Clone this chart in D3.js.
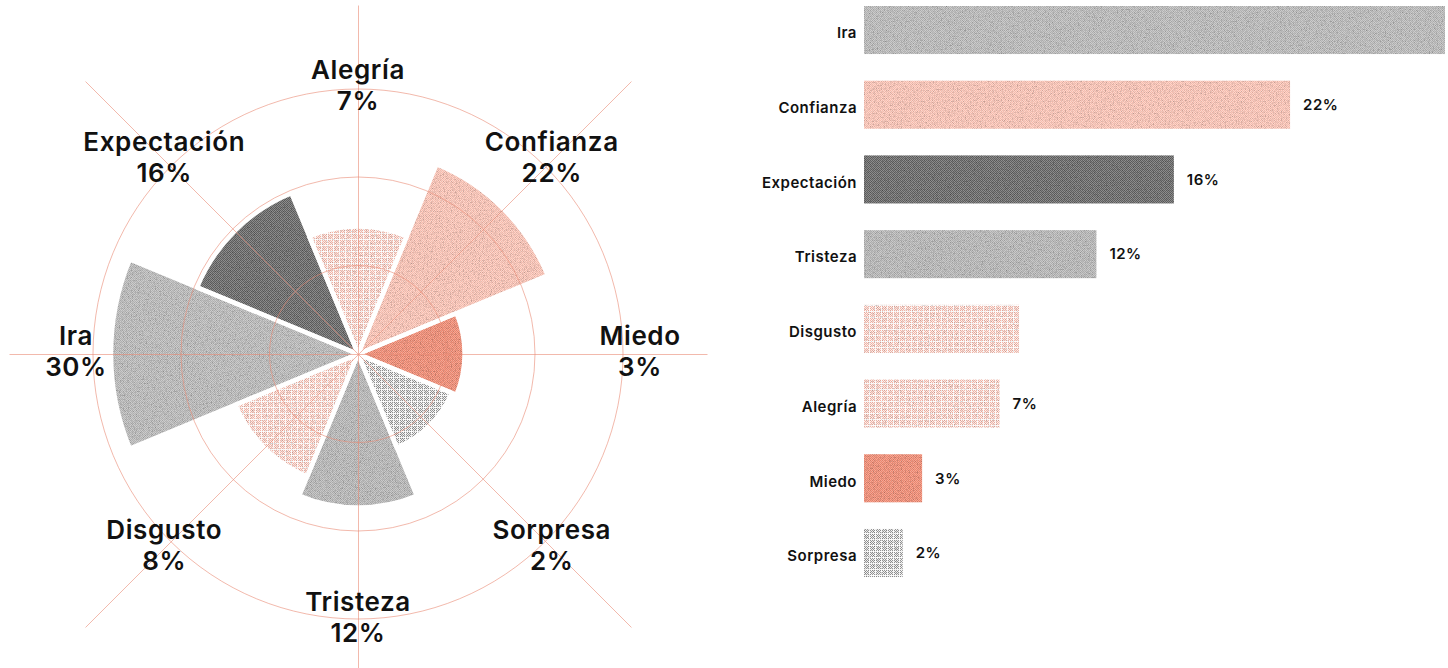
<!DOCTYPE html>
<html>
<head>
<meta charset="utf-8">
<script src="https://cdn.jsdelivr.net/npm/d3@7"></script>
<style>
  html, body { margin: 0; padding: 0; background: #fff; }
  svg { display: block; }
  text { font-family: Inter, "Noto Sans", sans-serif; fill: #111; }
</style>
</head>
<body>
<div id="chart"></div>
<script>
// emotions, clockwise from the top of the rose
const roseOrder = ['Alegría', 'Confianza', 'Miedo', 'Sorpresa', 'Tristeza', 'Disgusto', 'Ira', 'Expectación']
// same emotions, sorted for the bar chart
const barOrder = ['Ira', 'Confianza', 'Expectación', 'Tristeza', 'Disgusto', 'Alegría', 'Miedo', 'Sorpresa']
const values = { 'Alegría': 7, 'Confianza': 22, 'Miedo': 3, 'Sorpresa': 2, 'Tristeza': 12, 'Disgusto': 8, 'Ira': 30, 'Expectación': 16 }
// the original leaves these bars without a value label
const barsWithoutLabel = ['Ira', 'Disgusto']

const width = 1448
const height = 668

const svg = d3.select('#chart')
  .append('svg')
  .attr('width', width)
  .attr('height', height)

// textures: checkerboard pixels on a base tone
const textures = {
  'Ira':         { base: '#cdcdcd', dot: '#b3b3b3' },
  'Tristeza':    { base: '#cbcbcb', dot: '#b0b0b0' },
  'Confianza':   { base: '#fdd7cd', dot: '#f7bcad' },
  'Expectación': { base: '#8f8f8f', dot: '#606060' },
  'Miedo':       { base: '#f5a997', dot: '#ed866e' },
  'Alegría':     { base: '#fef1ee', dot: '#f3b5a7', grid: true },
  'Disgusto':    { base: '#fef1ee', dot: '#f3b5a7', grid: true },
  'Sorpresa':    { base: '#f6f6f6', dot: '#959595', grid: true },
}

const defs = svg.append('defs')
Object.entries(textures).forEach(([name, t], i) => {
  const s = t.grid ? 6 : 2
  const p = defs.append('pattern')
    .attr('id', 'tex' + i)
    .attr('patternUnits', 'userSpaceOnUse')
    .attr('width', s)
    .attr('height', s)
  p.append('rect').attr('width', s).attr('height', s).attr('fill', t.base)
  for (let x = 0; x < s; x++) {
    for (let y = 0; y < s; y++) {
      if ((x + y) % 2 === 0 && !(t.grid && (x === s - 1 || y === s - 1))) {
        p.append('rect').attr('x', x).attr('y', y).attr('width', 1).attr('height', 1).attr('fill', t.dot)
      }
    }
  }
  if (t.grid) {
    p.append('rect').attr('x', s - 1).attr('width', 1).attr('height', s).attr('fill', '#ffffff').attr('opacity', 0.7)
    p.append('rect').attr('y', s - 1).attr('width', s).attr('height', 1).attr('fill', '#ffffff').attr('opacity', 0.7)
  }
  t.fill = `url(#tex${i})`
})

// a light grain on top of the textures, like a printed halftone
const grain = defs.append('filter')
  .attr('id', 'grain')
  .attr('x', 0).attr('y', 0).attr('width', 1).attr('height', 1)
grain.append('feTurbulence')
  .attr('type', 'fractalNoise')
  .attr('baseFrequency', 0.75)
  .attr('numOctaves', 2)
  .attr('seed', 4)
  .attr('result', 'noise')
grain.append('feColorMatrix')
  .attr('in', 'noise')
  .attr('type', 'matrix')
  .attr('values', '0 0 0 0 0  0 0 0 0 0  0 0 0 0 0  1.2 0 0 0 -0.57')
  .attr('result', 'specks')
grain.append('feComposite')
  .attr('in', 'specks')
  .attr('in2', 'SourceGraphic')
  .attr('operator', 'in')
  .attr('result', 'inside')
const merge = grain.append('feMerge')
merge.append('feMergeNode').attr('in', 'SourceGraphic')
merge.append('feMergeNode').attr('in', 'inside')

// ---------- rose chart ----------
const cx = 358
const cy = 354
const rose = svg.append('g').attr('transform', `translate(${cx},${cy})`)

const angle = d3.scaleBand()
  .domain(roseOrder)
  .range([-Math.PI / 8, 2 * Math.PI - Math.PI / 8])

const mid = d => angle(d) + angle.bandwidth() / 2

const radius = d3.scaleLinear()
  .domain([0, 30])
  .range([91, 247])

const arc = d3.arc()
  .innerRadius(0)
  .outerRadius(d => radius(values[d]))
  .startAngle(d => angle(d))
  .endAngle(d => angle(d) + angle.bandwidth())

rose.append('g')
  .attr('filter', 'url(#grain)')
  .selectAll('path')
  .data(roseOrder)
  .enter()
  .append('path')
  .attr('d', arc)
  .attr('fill', d => textures[d].fill)

// white outline opens a straight gap between neighbouring wedges
rose.append('g')
  .selectAll('path')
  .data(roseOrder)
  .enter()
  .append('path')
  .attr('d', arc)
  .attr('fill', 'none')
  .attr('stroke', '#fff')
  .attr('stroke-width', 4.5)
  .attr('stroke-linejoin', 'round')

// grid drawn over the wedges
const grid = rose.append('g')
  .attr('fill', 'none')
  .attr('stroke', '#ea8a74')
  .attr('stroke-opacity', 0.6)
  .attr('stroke-width', 1)

grid.selectAll('circle')
  .data([88.5, 177, 265])
  .enter()
  .append('circle')
  .attr('r', d => d)

grid.append('g')
  .attr('transform', 'translate(0.5,0.5)')
  .selectAll('line')
  .data(roseOrder)
  .enter()
  .append('line')
  .attr('x1', 0)
  .attr('y1', 0)
  .attr('x2', (d, i) => Math.sin(mid(d)) * (i % 2 ? 386 : 349))
  .attr('y2', (d, i) => -Math.cos(mid(d)) * (i % 2 ? 386 : 349))

// labels: a little further out at the sides than at top and bottom
const labelR = a => 274 - 8 * Math.cos(2 * a)
const labels = rose.selectAll('g.label')
  .data(roseOrder)
  .enter()
  .append('g')
  .attr('class', 'label')
  .attr('transform', d => {
    const a = mid(d)
    return `translate(${Math.sin(a) * labelR(a)},${-Math.cos(a) * labelR(a)})`
  })
  .attr('text-anchor', 'middle')
  .style('font-size', '26px')
  .style('font-weight', 600)
  .style('letter-spacing', '0.6px')

labels.append('text')
  .attr('y', -9)
  .text(d => d)

labels.append('text')
  .attr('y', 22)
  .text(d => values[d] + '%')

// ---------- bar chart ----------
const x = d3.scaleLinear()
  .domain([0, 30])
  .range([864, 1445])

const y = d3.scaleBand()
  .domain(barOrder)
  .range([6, 577])
  .paddingInner(0.357)

const bars = svg.append('g')

bars.append('g')
  .attr('filter', 'url(#grain)')
  .selectAll('rect')
  .data(barOrder)
  .enter()
  .append('rect')
  .attr('x', x(0))
  .attr('y', d => y(d))
  .attr('width', d => x(values[d]) - x(0))
  .attr('height', y.bandwidth())
  .attr('fill', d => textures[d].fill)

bars.selectAll('text.cat')
  .data(barOrder)
  .enter()
  .append('text')
  .attr('class', 'cat')
  .attr('x', x(0) - 7)
  .attr('y', d => y(d) + y.bandwidth() / 2 + 3)
  .attr('dy', '0.35em')
  .attr('text-anchor', 'end')
  .style('font-size', '15px')
  .style('font-weight', 600)
  .style('letter-spacing', '0.5px')
  .text(d => d)

bars.selectAll('text.val')
  .data(barOrder.filter(d => !barsWithoutLabel.includes(d)))
  .enter()
  .append('text')
  .attr('class', 'val')
  .attr('x', d => x(values[d]) + 13)
  .attr('y', d => y(d) + y.bandwidth() / 2)
  .attr('dy', '0.35em')
  .style('font-size', '15px')
  .style('font-weight', 600)
  .style('letter-spacing', '0.5px')
  .text(d => values[d] + '%')
</script>
</body>
</html>
